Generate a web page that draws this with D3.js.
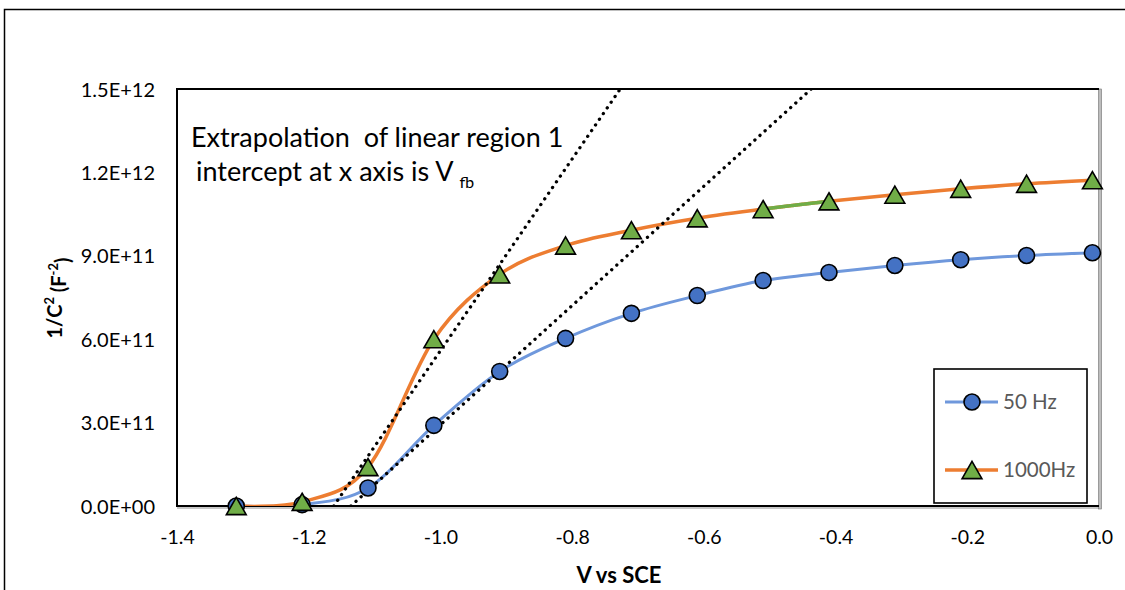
<!DOCTYPE html>
<html>
<head>
<meta charset="utf-8">
<script src="https://cdn.jsdelivr.net/npm/d3@7"></script>
<style>
  html, body { margin: 0; padding: 0; background: #fff; }
  svg { display: block; }
  text { font-family: Lato, "Open Sans", "DejaVu Sans", sans-serif; }
</style>
</head>
<body>
<div id="chart"></div>
<script>
// Mott–Schottky data: potential vs SCE and 1/C^2 at two frequencies
const voltage = [-1.31, -1.21, -1.11, -1.01, -0.91, -0.81, -0.71, -0.61, -0.51, -0.41, -0.31, -0.21, -0.11, -0.01];
const invC2_50Hz = [0.0, 0.005e12, 0.065e12, 0.29e12, 0.484e12, 0.603e12, 0.693e12, 0.757e12, 0.811e12, 0.840e12, 0.865e12, 0.886e12, 0.901e12, 0.911e12];
const invC2_1000Hz = [0.0, 0.015e12, 0.14e12, 0.60e12, 0.833e12, 0.937e12, 0.992e12, 1.035e12, 1.068e12, 1.096e12, 1.120e12, 1.141e12, 1.159e12, 1.172e12];

// Extrapolated linear regions (endpoints: x-intercept and top of axis)
const fit1000Hz_x = [-1.162, -0.727];
const fit1000Hz_y = [0, 1.5e12];
const fit50Hz_x = [-1.136, -0.437];
const fit50Hz_y = [0, 1.5e12];

const xTicks = [-1.4, -1.2, -1.0, -0.8, -0.6, -0.4, -0.2, 0.0];
const xTickLabels = ["-1.4", "-1.2", "-1.0", "-0.8", "-0.6", "-0.4", "-0.2", "0.0"];
const yTicks = [0, 3e11, 6e11, 9e11, 1.2e12, 1.5e12];
const yTickLabels = ["0.0E+00", "3.0E+11", "6.0E+11", "9.0E+11", "1.2E+12", "1.5E+12"];
const seriesNames = ["50 Hz", "1000Hz"];

const W = 1125, H = 590;
const plot = { left: 177, right: 1099, top: 89, bottom: 506 };

const svg = d3.select("#chart").append("svg").attr("width", W).attr("height", H);

// outer chart frame
svg.append("path")
  .attr("d", `M4.5,${H + 5} V9.5 H${W + 5}`)
  .attr("fill", "none").attr("stroke", "#000").attr("stroke-width", 1.5);

const x = d3.scaleLinear().domain([-1.4, 0]).range([plot.left, plot.right]);
const y = d3.scaleLinear().domain([0, 1.5e12]).range([plot.bottom, plot.top]);

svg.append("defs").append("clipPath").attr("id", "plotClip")
  .append("rect")
  .attr("x", plot.left).attr("y", plot.top)
  .attr("width", plot.right - plot.left).attr("height", plot.bottom - plot.top);

// plot area frame: right edge grey, bottom with soft shadow
svg.append("line")
  .attr("x1", plot.left).attr("x2", plot.right + 1.5)
  .attr("y1", plot.bottom + 2).attr("y2", plot.bottom + 2)
  .attr("stroke", "#c8c8c8").attr("stroke-width", 2);
svg.append("rect")
  .attr("x", plot.right - 0.5).attr("y", plot.top)
  .attr("width", 3).attr("height", plot.bottom - plot.top + 3)
  .attr("fill", "#bdbdbd").attr("stroke", "#6f6f6f").attr("stroke-width", 0.6);
svg.append("path")
  .attr("d", `M${plot.right},${plot.top} H${plot.left} V${plot.bottom} H${plot.right}`)
  .attr("fill", "none").attr("stroke", "#000").attr("stroke-width", 2);

// axes (labels only, no tick marks)
const xAxis = d3.axisBottom(x).tickValues(xTicks)
  .tickFormat((d, i) => xTickLabels[i]).tickSize(0).tickPadding(0);
const gx = svg.append("g").attr("transform", `translate(0,${plot.bottom})`).call(xAxis);
gx.select(".domain").remove();
gx.selectAll("text")
  .attr("y", 31).attr("dy", "0.35em")
  .attr("font-size", 19.5).attr("fill", "#000")
  .style("font-family", "Lato, 'Open Sans', sans-serif");

const yAxis = d3.axisLeft(y).tickValues(yTicks)
  .tickFormat((d, i) => yTickLabels[i]).tickSize(0).tickPadding(0);
const gy = svg.append("g").attr("transform", `translate(155,0)`).call(yAxis);
gy.select(".domain").remove();
gy.selectAll("text")
  .attr("x", 0).attr("dy", "0.35em")
  .attr("font-size", 20).attr("fill", "#000")
  .style("font-family", "Lato, 'Open Sans', sans-serif");

// axis titles
svg.append("text")
  .attr("x", 619).attr("y", 575).attr("dy", "0.35em")
  .attr("text-anchor", "middle").attr("font-size", 22).attr("font-weight", "bold")
  .text("V vs SCE");

const yTitle = svg.append("text")
  .attr("transform", "translate(55,298) rotate(-90)")
  .attr("dy", "0.35em")
  .attr("text-anchor", "middle").attr("font-size", 20).attr("font-weight", "bold");
yTitle.append("tspan").text("1/C");
yTitle.append("tspan").attr("font-size", 13).attr("dy", "-0.6em").text("2");
yTitle.append("tspan").attr("dy", "0.6em").text(" (F");
yTitle.append("tspan").attr("font-size", 13).attr("dy", "-0.6em").text("-2");
yTitle.append("tspan").attr("dy", "0.6em").text(")");

const plotG = svg.append("g").attr("clip-path", "url(#plotClip)");
const curve = d3.curveCatmullRom.alpha(0);

const pts50 = voltage.map((v, i) => [v, invC2_50Hz[i]]);
const pts1000 = voltage.map((v, i) => [v, invC2_1000Hz[i]]);
const lineGen = d3.line().x(d => x(d[0])).y(d => y(d[1])).curve(curve);

// 50 Hz series
plotG.append("path").attr("d", lineGen(pts50))
  .attr("fill", "none").attr("stroke", "#6f98dc").attr("stroke-width", 3);

// 1000 Hz series
plotG.append("path").attr("d", lineGen(pts1000))
  .attr("fill", "none").attr("stroke", "#ED7D31").attr("stroke-width", 3.5);

// single green-coloured segment of the 1000 Hz curve (-0.51 to -0.41)
{
  const tmp = svg.append("path").attr("d", lineGen(pts1000)).attr("visibility", "hidden");
  const node = tmp.node();
  const total = node.getTotalLength();
  const xa = x(voltage[8]), xb = x(voltage[9]);
  const seg = [];
  for (let l = 0; l <= total; l += 1) {
    const p = node.getPointAtLength(l);
    if (p.x >= xa && p.x <= xb) seg.push([p.x, p.y]);
  }
  tmp.remove();
  plotG.append("path").attr("d", d3.line()(seg))
    .attr("fill", "none").attr("stroke", "#70AD47").attr("stroke-width", 3.5);
}

// markers
const markers = svg.append("g");
markers.selectAll("circle.m50").data(pts50).join("circle")
  .attr("class", "m50")
  .attr("cx", d => x(d[0])).attr("cy", d => y(d[1])).attr("r", 8)
  .attr("fill", "#4472C4").attr("stroke", "#000").attr("stroke-width", 1.6);

// triangle symbol, shifted so its bounding box (not centroid) sits on the point
const triSize = 170;
const triSide = Math.sqrt(triSize * 4 / Math.sqrt(3));
const triShift = (triSide * Math.sqrt(3) / 2) / 6;
const tri = d3.symbol().type(d3.symbolTriangle).size(triSize);
markers.selectAll("path.m1000").data(pts1000).join("path")
  .attr("class", "m1000")
  .attr("d", tri)
  .attr("transform", d => `translate(${x(d[0])},${y(d[1]) + triShift})`)
  .attr("fill", "#70AD47").attr("stroke", "#000").attr("stroke-width", 1.6);

// dotted extrapolation lines
const fits = [
  fit1000Hz_x.map((v, i) => [v, fit1000Hz_y[i]]),
  fit50Hz_x.map((v, i) => [v, fit50Hz_y[i]])
];
plotG.selectAll("path.fit").data(fits).join("path")
  .attr("class", "fit")
  .attr("d", d3.line().x(d => x(d[0])).y(d => y(d[1])))
  .attr("fill", "none").attr("stroke", "#000").attr("stroke-width", 3.3)
  .attr("stroke-linecap", "round").attr("stroke-dasharray", "0.1 6.8");

// annotation
const note = svg.append("g").attr("font-size", 27).attr("fill", "#000");
note.append("text").attr("x", 191).attr("y", 147)
  .attr("xml:space", "preserve")
  .text("Extrapolation  of linear region 1");
const l2 = note.append("text").attr("x", 196).attr("y", 181);
l2.append("tspan").text("intercept at x axis is V ");
l2.append("tspan").attr("font-size", 16).attr("dy", 7).text("fb");

// legend
const lg = svg.append("g");
lg.append("rect").attr("x", 934).attr("y", 369).attr("width", 153).attr("height", 134)
  .attr("fill", "#fff").attr("stroke", "#000").attr("stroke-width", 1.6);
const legendRows = [
  { y: 402, color: "#6f98dc", width: 3 },
  { y: 470, color: "#ED7D31", width: 3.5 }
];
legendRows.forEach((r, i) => {
  lg.append("line").attr("x1", 945).attr("x2", 998).attr("y1", r.y).attr("y2", r.y)
    .attr("stroke", r.color).attr("stroke-width", r.width);
  if (i === 0) {
    lg.append("circle").attr("cx", 972).attr("cy", r.y).attr("r", 8)
      .attr("fill", "#4472C4").attr("stroke", "#000").attr("stroke-width", 1.6);
  } else {
    lg.append("path").attr("d", tri).attr("transform", `translate(972,${r.y + triShift})`)
      .attr("fill", "#70AD47").attr("stroke", "#000").attr("stroke-width", 1.6);
  }
  lg.append("text").attr("x", 1003).attr("y", r.y).attr("dy", "0.35em")
    .attr("font-size", 20.5).attr("fill", "#595959").text(seriesNames[i]);
});
</script>
</body>
</html>
